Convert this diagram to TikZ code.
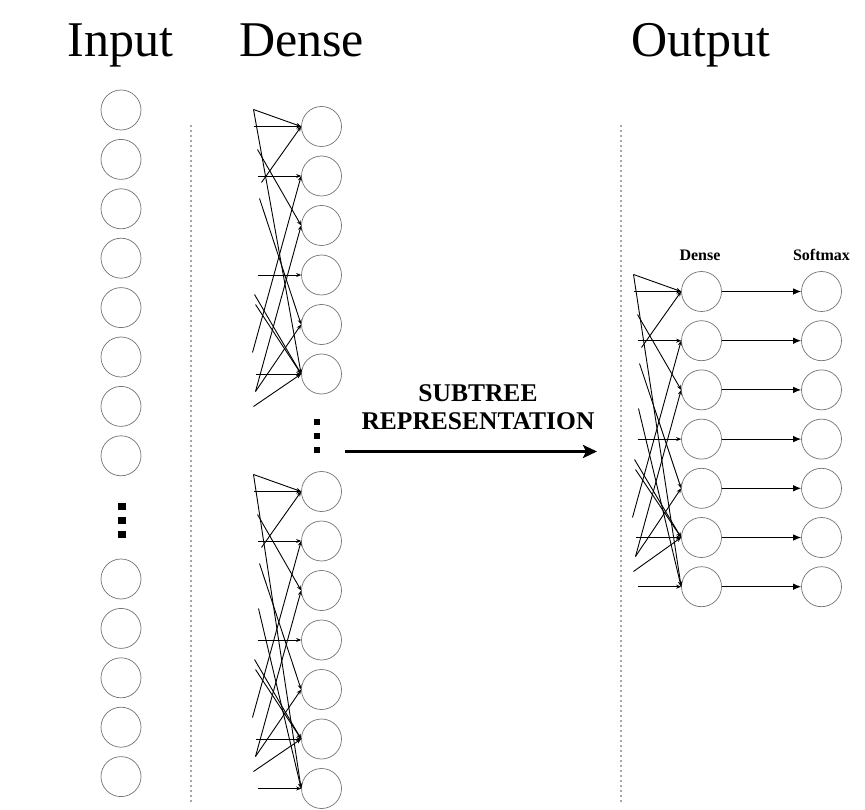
\documentclass[tikz,border=0pt]{standalone}
\usepackage{fontspec}
\setmainfont{Liberation Serif}
\usetikzlibrary{arrows.meta,calc}
\newcommand\commonwires[1]{%
  \coordinate (#1a) at ($(#11)+(-68,-17)$);
  \coordinate (#1b) at ($(#11)+(-68,0)$);
  \coordinate (#1c) at ($(#11)+(-60,56)$);
  \coordinate (#1d) at ($(#11)+(-64,23)$);
  \coordinate (#1e) at ($(#12)+(-64,0)$);
  \coordinate (#1f) at ($(#11)+(-62,72)$);
  \coordinate (#1h) at ($(#11)+(-69,226)$);
  \coordinate (#1i) at ($(#11)+(-66,265)$);
  \coordinate (#1j) at ($(#14)+(-64,0)$);
  \coordinate (#1k) at ($(#11)+(-67,168)$);
  \coordinate (#1kk) at ($(#11)+(-66,178)$);
  \coordinate (#1l) at ($(#11)+(-68,280)$);
  \coordinate (#1m) at ($(#16)+(-66,0)$);
  \draw[wire] (#1a) -- (#11.west);
  \draw[wire] (#1b) -- (#11.west);
  \draw[wire] (#1c) -- (#11.west);
  \draw[wire] (#1d) -- (#13.west);
  \draw[wire] (#1e) -- (#12.west);
  \draw[wire] (#1f) -- (#15.west);
  \draw[wire] (#1h) -- (#12.west);
  \draw[wire] (#1i) -- (#13.west);
  \draw[wire] (#1i) -- (#15.west);
  \draw[wire] (#1j) -- (#14.west);
  \draw[wire] (#1k) -- (#16.west);
  \draw[wire] (#1kk) -- (#16.west);
  \draw[wire] (#1l) -- (#16.west);
  \draw[wire] (#1m) -- (#16.west);
}
\newcommand\sevenwires[1]{%
  \coordinate (#1g) at ($(#11)+(-63,117)$);
  \coordinate (#1n) at ($(#17)+(-64,0)$);
  \draw[wire] (#1a) -- (#17.west);
  \draw[wire] (#1g) -- (#17.west);
  \draw[wire] (#1n) -- (#17.west);
}
\begin{document}
\begin{tikzpicture}[x=1pt,y=-1pt,
  neuron/.style={circle,draw=black!55,line width=0.7pt,minimum size=40pt,inner sep=0pt},
  wire/.style={line width=0.9pt,-{Stealth[length=5pt,width=4pt]}},
  outwire/.style={line width=1pt,-{Latex[length=8pt,width=6.5pt]}},
  bigarrow/.style={line width=2.6pt,-{Stealth[length=14pt,width=13pt,inset=3pt]}},
  sep/.style={draw=black!35,line width=1.6pt,dash pattern=on 1.6pt off 3.4pt},
  title/.style={anchor=base,font=\fontsize{50}{60}\selectfont},
  small/.style={anchor=base,font=\fontsize{16}{18}\selectfont\bfseries},
  sqbig/.style={fill=black,minimum size=7.5pt,inner sep=0pt},
  sqsmall/.style={fill=black,minimum size=6pt,inner sep=0pt}]
\useasboundingbox (0,0) rectangle (865,810);

% titles
\node[title] (tin) at (120.5,57) {Input};
\node[title] (tden) at (301.5,57) {Dense};
\node[title] (tout) at (701,57) {Output};

% separators
\coordinate (sepAtop) at (190.7,125);
\coordinate (sepAbot) at (190.7,802);
\coordinate (sepBtop) at (620.7,125);
\coordinate (sepBbot) at (620.7,802);
\draw[sep] (sepAtop) -- (sepAbot);
\draw[sep] (sepBtop) -- (sepBbot);

% input column
\foreach \k in {0,...,7}{
  \node[neuron] (in\k) at (121,110+49.4*\k) {};
}
\foreach \k in {0,...,4}{
  \node[neuron] (inb\k) at (121,579+49.4*\k) {};
}
\node[sqbig] (idot1) at (122,506.7) {};
\node[sqbig] (idot2) at (122,520.5) {};
\node[sqbig] (idot3) at (122,534.5) {};

% dense column, top block
\foreach \k in {1,...,6}{
  \node[neuron] (t\k) at (321.5,126.5+49.5*\k-49.5) {};
}
\commonwires{t}
\draw[wire] (ta) -- (t6.west);

% dense dots
\node[sqsmall] (ddot1) at (316.7,421.7) {};
\node[sqsmall] (ddot2) at (316.7,435.5) {};
\node[sqsmall] (ddot3) at (316.7,450) {};

% dense column, bottom block
\foreach \k in {1,...,7}{
  \node[neuron] (b\k) at (321.5,491.5+49.5*\k-49.5) {};
}
\commonwires{b}
\sevenwires{b}

% subtree arrow
\node[align=center,font=\fontsize{25.5}{28}\selectfont\bfseries] (lab) at (478,407.5) {SUBTREE\\REPRESENTATION};
\coordinate (arrA) at (345,451.5);
\coordinate (arrB) at (597,451.5);
\draw[bigarrow] (arrA) -- (arrB);

% output block
\node[small] (ldense) at (700,260.5) {Dense};
\node[small] (lsoft) at (821.5,260.5) {Softmax};
\foreach \k in {1,...,7}{
  \node[neuron] (o\k) at (701.5,291.5+49.2*\k-49.2) {};
  \node[neuron] (s\k) at (821.5,291.5+49.2*\k-49.2) {};
  \draw[outwire] (o\k.east) -- (s\k.west);
}
\commonwires{o}
\sevenwires{o}
\end{tikzpicture}
\end{document}
